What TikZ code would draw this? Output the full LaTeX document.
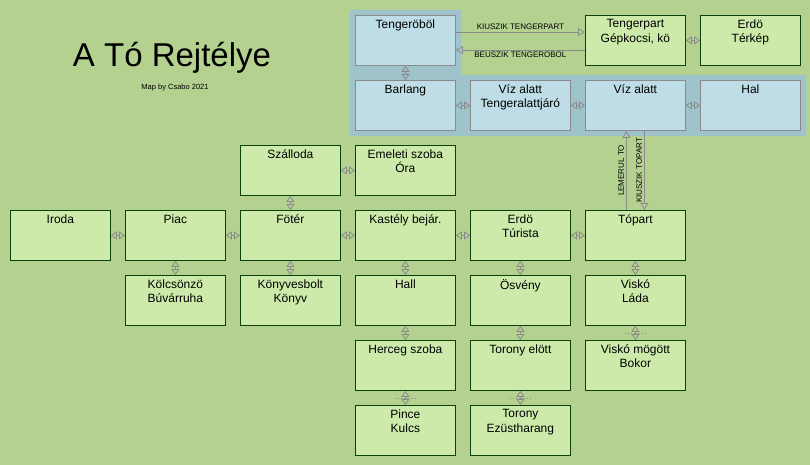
\documentclass[tikz,border=0pt]{standalone}
\usepackage{fontspec}
\setmainfont{Liberation Sans}
\usetikzlibrary{arrows.meta,calc,positioning}
\definecolor{bgcol}{HTML}{B4D190}
\definecolor{roomcol}{HTML}{CDEAAA}
\definecolor{roomline}{HTML}{0A400A}
\definecolor{watercol}{HTML}{BEDDE6}
\definecolor{seacol}{HTML}{9EC3CA}
\definecolor{linkcol}{HTML}{8A8A8A}
\tikzset{
  room/.style={
    draw=roomline, fill=roomcol, thick,
    minimum width=100pt, minimum height=50pt,
    anchor=north west, inner sep=0pt,
    label={[anchor=north, align=center, font=\fontsize{12}{14.5}\selectfont, yshift=-1pt]north:#1}},
  water/.style={room=#1, draw=linkcol, fill=watercol},
  link/.style={draw=linkcol, thick, {Triangle[open,length=6pt,width=8pt]}-{Triangle[open,length=6pt,width=8pt]}},
  oneway/.style={draw=linkcol, thick, -{Triangle[open,length=7pt,width=8pt]}},
  hidden/.style={draw=linkcol, dotted, thick},
  tag/.style={font=\fontsize{8}{9}\selectfont, inner sep=2pt},
}
\begin{document}
\begin{tikzpicture}[x=1pt,y=-1pt]
  \fill[bgcol] (0,0) rectangle (810,465);
  \useasboundingbox (0,0) rectangle (810,465);

  % sea area
  \fill[seacol] (350,10) -- (461,10) -- (461,75) -- (806,75) -- (806,136) -- (350,136) -- cycle;

  % title
  \node (title) at (172,58) {\fontsize{33}{36}\selectfont A Tó Rejtélye};
  \node[font=\fontsize{7.5}{9}\selectfont] (byline) at (175,88) {Map by Csabo 2021};

  % rooms
  \node[water={Tengeröböl}] (ocean) at (355,15) {};
  \node[room={Tengerpart\\Gépkocsi, kö}] (shore) at (585,15) {};
  \node[room={Erdö\\Térkép}] (forest2) at (700,15) {};
  \node[water={Barlang}] (cave) at (355,80) {};
  \node[water={Víz alatt\\Tengeralattjáró}] (sub) at (470,80) {};
  \node[water={Víz alatt}] (under) at (585,80) {};
  \node[water={Hal}] (fish) at (700,80) {};
  \node[room={Szálloda}] (hotel) at (240,145) {};
  \node[room={Emeleti szoba\\Óra}] (upstairs) at (355,145) {};
  \node[room={Iroda}] (office) at (10,210) {};
  \node[room={Piac}] (market) at (125,210) {};
  \node[room={Fötér}] (square) at (240,210) {};
  \node[room={Kastély bejár.}] (castle) at (355,210) {};
  \node[room={Erdö\\Túrista}] (forest) at (470,210) {};
  \node[room={Tópart}] (lake) at (585,210) {};
  \node[room={Kölcsönzö\\Búvárruha}] (rental) at (125,275) {};
  \node[room={Könyvesbolt\\Könyv}] (books) at (240,275) {};
  \node[room={Hall}] (hall) at (355,275) {};
  \node[room={Ösvény}] (path) at (470,275) {};
  \node[room={Viskó\\Láda}] (hut) at (585,275) {};
  \node[room={Herceg szoba}] (prince) at (355,340) {};
  \node[room={Torony elött}] (before) at (470,340) {};
  \node[room={Viskó mögött\\Bokor}] (behind) at (585,340) {};
  \node[room={Pince\\Kulcs}] (cellar) at (355,405) {};
  \node[room={Torony\\Ezüstharang}] (tower) at (470,405) {};

  % two-way links
  \foreach \a/\b in {shore/forest2, cave/sub, sub/under, under/fish,
      hotel/upstairs, office/market, market/square, square/castle,
      castle/forest, forest/lake}
    \draw[link] (\a.east) -- (\b.west);
  \foreach \a/\b in {ocean/cave, hotel/square, market/rental, square/books,
      castle/hall, forest/path, lake/hut, hall/prince, path/before,
      hut/behind, prince/cellar, before/tower}
    \draw[link] (\a.south) -- (\b.north);

  % hidden passages
  \foreach \a/\b in {hut/behind, prince/cellar, before/tower}
    \draw[hidden] ($(\a.south)!.5!(\b.north)+(-10,0)$) -- ++(20,0);

  % one-way links
  \draw[oneway] ($(ocean.north east)+(0,17)$) -- ($(shore.north west)+(0,17)$)
    node[tag, midway, above] {KIUSZIK TENGERPART};
  \draw[oneway] ($(shore.north west)+(0,35)$) -- ($(ocean.north east)+(0,35)$)
    node[tag, midway, below] {BEUSZIK TENGEROBOL};
  \draw[oneway] ($(lake.north)+(-9,0)$) -- ($(under.south)+(-9,0)$)
    node[tag, midway, above, sloped] {LEMERUL TO};
  \draw[oneway] ($(under.south)+(9,0)$) -- ($(lake.north)+(9,0)$)
    node[tag, midway, above, sloped, rotate=180, anchor=south] {KIUSZIK TOPART};
\end{tikzpicture}
\end{document}
